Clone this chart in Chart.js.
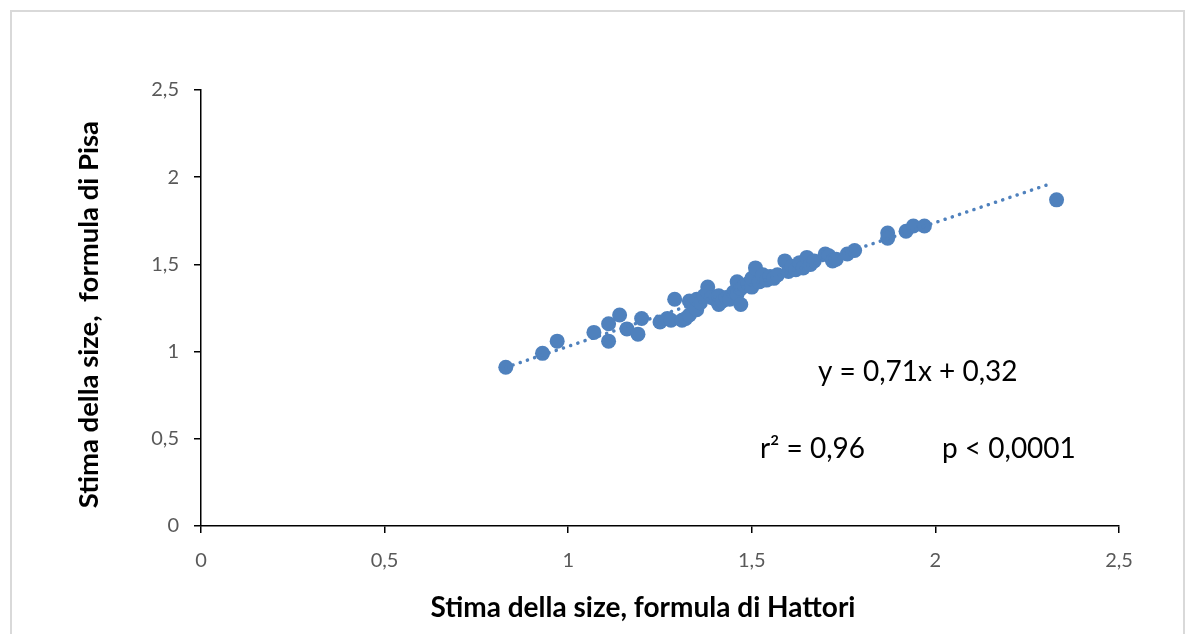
<!DOCTYPE html>
<html>
<head>
    <meta charset="utf-8" />
    <title>Stima della size</title>
    <script src="https://cdn.jsdelivr.net/npm/chart.js@4.4.0/dist/chart.umd.min.js"></script>
    <style>
        html, body {
            margin: 0;
            padding: 0;
            width: 1186px;
            height: 634px;
            overflow: hidden;
            background: #fff;
        }
        #frame {
            position: absolute;
            left: 10px;
            top: 10px;
            width: 1171px;
            height: 700px;
            border: 2px solid #d9d9d9;
        }
        #chart {
            position: absolute;
            left: 0;
            top: 0;
        }
    </style>
</head>
<body>
    <div id="frame"></div>
    <canvas id="chart" width="1186" height="634"></canvas>
    <script>
        // Hattori (x) vs Pisa (y) estimates
        const hattori = [0.83, 0.93, 0.97, 1.07, 1.11, 1.11, 1.14, 1.16, 1.19, 1.20,
            1.25, 1.27, 1.28, 1.29, 1.31, 1.32, 1.33, 1.33, 1.34, 1.35,
            1.35, 1.36, 1.37, 1.38, 1.38, 1.39, 1.40, 1.41, 1.41, 1.42,
            1.43, 1.44, 1.45, 1.46, 1.46, 1.47, 1.47, 1.48, 1.49, 1.50,
            1.50, 1.51, 1.52, 1.53, 1.54, 1.55, 1.56, 1.57, 1.59, 1.60,
            1.61, 1.62, 1.63, 1.64, 1.65, 1.66, 1.67, 1.70, 1.71, 1.72,
            1.73, 1.76, 1.78, 1.87, 1.87, 1.92, 1.94, 1.97, 2.33];
        const pisa = [0.91, 0.99, 1.06, 1.11, 1.16, 1.06, 1.21, 1.13, 1.10, 1.19,
            1.17, 1.19, 1.18, 1.30, 1.18, 1.19, 1.21, 1.29, 1.27, 1.24,
            1.30, 1.28, 1.32, 1.37, 1.34, 1.31, 1.30, 1.27, 1.32, 1.29,
            1.31, 1.30, 1.34, 1.40, 1.33, 1.27, 1.36, 1.38, 1.39, 1.37,
            1.42, 1.48, 1.40, 1.44, 1.41, 1.43, 1.42, 1.44, 1.52, 1.46,
            1.49, 1.47, 1.51, 1.48, 1.54, 1.50, 1.52, 1.56, 1.55, 1.52,
            1.53, 1.56, 1.58, 1.68, 1.65, 1.69, 1.72, 1.72, 1.87];

        // linear trend shown on the chart
        const slope = 0.71;
        const intercept = 0.32;
        const trendX = [0.83, 2.32];

        const axisTicks = [0, 0.5, 1, 1.5, 2, 2.5];

        const blue = '#4f81bd';
        const fontFamily = 'Lato, "Open Sans", sans-serif';

        const points = hattori.map((x, i) => ({ x: x, y: pisa[i] }));
        const trend = trendX.map(x => ({ x: x, y: slope * x + intercept }));

        const fmt = v => String(v).replace('.', ',');

        // equation text in the plot area
        const notes = {
            id: 'notes',
            afterDatasetsDraw(chart) {
                const { ctx, scales } = chart;
                ctx.save();
                ctx.fillStyle = '#000';
                ctx.font = '28px ' + fontFamily;
                ctx.textBaseline = 'middle';
                ctx.textAlign = 'left';
                ctx.fillText('y = 0,71x + 0,32', scales.x.getPixelForValue(1.68), scales.y.getPixelForValue(0.885));
                ctx.fillText('r² = 0,96', scales.x.getPixelForValue(1.522), scales.y.getPixelForValue(0.44));
                ctx.fillText('p < 0,0001', scales.x.getPixelForValue(2.018), scales.y.getPixelForValue(0.44));
                ctx.restore();
            }
        };

        new Chart(document.getElementById('chart'), {
            type: 'scatter',
            data: {
                datasets: [{
                    data: points,
                    backgroundColor: blue,
                    borderColor: blue,
                    pointRadius: 7.5,
                    pointBorderWidth: 0,
                    order: 1
                }, {
                    type: 'line',
                    data: trend,
                    borderColor: blue,
                    borderWidth: 3.5,
                    borderDash: [0.1, 7.5],
                    borderCapStyle: 'round',
                    pointRadius: 0,
                    fill: false,
                    order: 0
                }]
            },
            options: {
                responsive: false,
                animation: false,
                devicePixelRatio: 1,
                layout: { padding: { left: 0, right: 67, top: 90, bottom: 0 } },
                plugins: {
                    legend: { display: false },
                    tooltip: { enabled: false }
                },
                scales: {
                    x: {
                        type: 'linear',
                        min: 0,
                        max: 2.5,
                        afterFit(scale) { scale.height = 108; },
                        afterBuildTicks(scale) { scale.ticks = axisTicks.map(v => ({ value: v })); },
                        border: { display: true, color: '#000', width: 1.5 },
                        grid: { drawOnChartArea: false, drawTicks: true, tickLength: 7, color: '#000', lineWidth: 1.5 },
                        ticks: {
                            callback: fmt,
                            color: '#595959',
                            padding: 16,
                            font: { family: fontFamily, size: 20 }
                        },
                        title: {
                            display: true,
                            // trailing spaces nudge the centred title left, as in the original
                            text: 'Stima della size, formula di Hattori     ',
                            color: '#000',
                            padding: { top: 0, bottom: 9 },
                            font: { family: fontFamily, size: 28, weight: 'bold' }
                        }
                    },
                    y: {
                        type: 'linear',
                        min: 0,
                        max: 2.5,
                        afterFit(scale) { scale.width = 201; },
                        afterBuildTicks(scale) { scale.ticks = axisTicks.map(v => ({ value: v })); },
                        border: { display: true, color: '#000', width: 1.5 },
                        grid: { drawOnChartArea: false, drawTicks: true, tickLength: 7, color: '#000', lineWidth: 1.5 },
                        ticks: {
                            callback: fmt,
                            color: '#595959',
                            padding: 15,
                            font: { family: fontFamily, size: 20 }
                        },
                        title: {
                            display: true,
                            text: 'Stima della size,  formula di Pisa  ',
                            color: '#000',
                            padding: { top: 73, bottom: 0 },
                            font: { family: fontFamily, size: 27.5, weight: 'bold' }
                        }
                    }
                }
            },
            plugins: [notes]
        });
    </script>
</body>
</html>
